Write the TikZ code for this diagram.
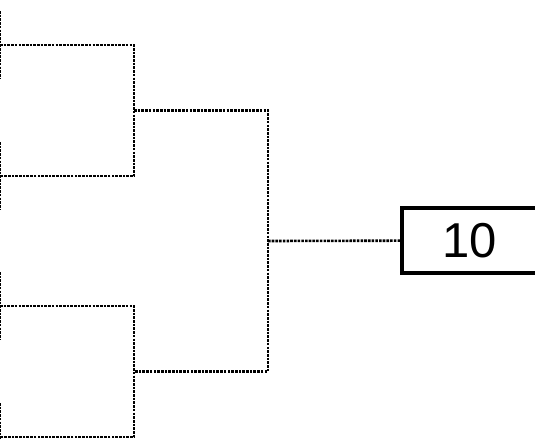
\documentclass[tikz,border=0pt]{standalone}
\usepackage{fontspec}
\setmainfont{Liberation Sans}
\usetikzlibrary{positioning}

\begin{document}
\begin{tikzpicture}[x=1pt,y=-1pt,
 link/.style={line width=2.6pt,dash pattern=on 2.6pt off 1.1pt},
 score/.style={draw,line width=3.4pt,minimum width=136pt,minimum height=65pt,inner sep=0pt,font=\fontsize{49}{53}\selectfont}]
\useasboundingbox (0,0) rectangle (535,439);
\clip (0,0) rectangle (535,439);
\coordinate (q1) at (0,45);
\coordinate (q2) at (0,176);
\coordinate (q3) at (0,306);
\coordinate (q4) at (0,437);
\coordinate (s1) at (134,110.5);
\coordinate (s2) at (134,371.5);
\coordinate (f) at (268,241);
\node[score] (w) at (470,240.5) {10};
\foreach \q in {q1,q2,q3,q4}
  \draw[link] ([yshift=34pt]\q) -- ([yshift=-34pt]\q);
\draw[link] (q1) -| (s1) |- (q2);
\draw[link] (q3) -| (s2) |- (q4);
\draw[link] (s1) -| (f) |- (s2);
\draw[link] (f) -- (w);
\end{tikzpicture}
\end{document}
